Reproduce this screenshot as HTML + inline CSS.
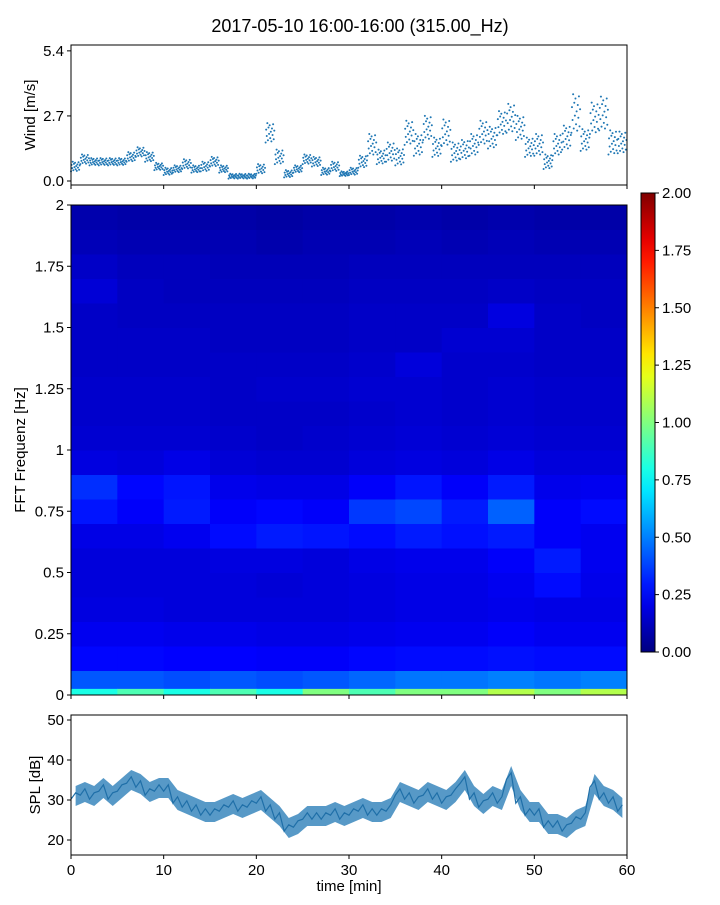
<!DOCTYPE html>
<html><head><meta charset="utf-8">
<style>
body{margin:0;background:#fff;}
svg text{font-family:"Liberation Sans","DejaVu Sans",sans-serif;fill:#000;}
</style></head>
<body>
<svg id="chart" width="720" height="900" xmlns="http://www.w3.org/2000/svg">
<text x="360" y="32" font-size="18" text-anchor="middle">2017-05-10 16:00-16:00 (315.00_Hz)</text>
<g id="wind"></g>
<g id="spec"></g>
<g id="cbar"></g>
<g id="spl"></g>
</svg>
<script>
const minutes = [0,1,2,3,4,5,6,7,8,9,10,11,12,13,14,15,16,17,18,19,20,21,22,23,24,25,26,27,28,29,30,31,32,33,34,35,36,37,38,39,40,41,42,43,44,45,46,47,48,49,50,51,52,53,54,55,56,57,58,59];
const windMean = [0.6,0.9,0.8,0.8,0.8,0.8,1.0,1.2,1.0,0.6,0.4,0.5,0.7,0.5,0.6,0.8,0.5,0.2,0.2,0.2,0.5,2.0,1.0,0.3,0.5,0.9,0.8,0.4,0.6,0.3,0.4,0.8,1.5,1.0,1.2,1.0,2.0,1.5,2.2,1.4,2.0,1.2,1.3,1.5,2.0,1.8,2.4,2.6,2.2,1.4,1.5,0.8,1.5,1.8,2.8,1.7,2.6,2.8,1.6,1.6];
const windSpread = [0.4,0.4,0.3,0.3,0.3,0.3,0.4,0.4,0.4,0.3,0.3,0.3,0.4,0.3,0.4,0.4,0.3,0.2,0.2,0.2,0.4,0.8,0.6,0.3,0.3,0.4,0.4,0.3,0.4,0.2,0.3,0.5,0.9,0.6,0.8,0.7,1.0,0.9,1.0,0.8,1.1,0.8,0.8,0.9,1.0,0.9,1.0,1.2,1.0,0.8,0.9,0.6,0.9,1.0,1.6,0.9,1.3,1.4,1.0,0.9];
const splMean = [31,32,31,33,31,33,35,34,32,33,33,30,29,28,27,27,28,29,28,29,30,28,26,23,24,26,26,26,27,26,27,28,27,27,28,32,31,30,32,31,30,32,35,31,29,31,30,36,30,27,27,24,24,23,25,26,34,31,30,28];
const windTicks = [0.0,2.7,5.4];
const splTicks = [20,30,40,50];
const timeTicks = [0,10,20,30,40,50,60];
const freqTicks = [0,0.25,0.5,0.75,1,1.25,1.5,1.75,2];
const cbarTicks = [0,0.25,0.5,0.75,1,1.25,1.5,1.75,2];
// spectrogram: rows from 0 Hz upward, 0.1 Hz each; 12 columns of 5 minutes
const specRows = [
[0.42,0.42,0.4,0.42,0.4,0.42,0.45,0.48,0.48,0.5,0.48,0.5],
[0.26,0.26,0.25,0.25,0.24,0.24,0.26,0.27,0.27,0.28,0.27,0.27],
[0.22,0.22,0.21,0.21,0.2,0.2,0.21,0.22,0.22,0.24,0.22,0.22],
[0.19,0.19,0.18,0.18,0.18,0.18,0.19,0.2,0.2,0.21,0.2,0.2],
[0.18,0.18,0.18,0.18,0.17,0.18,0.19,0.2,0.2,0.22,0.27,0.21],
[0.18,0.18,0.18,0.19,0.19,0.18,0.2,0.21,0.21,0.24,0.3,0.22],
[0.2,0.2,0.22,0.27,0.3,0.29,0.27,0.3,0.28,0.3,0.24,0.22],
[0.29,0.24,0.3,0.24,0.26,0.24,0.36,0.39,0.3,0.44,0.24,0.27],
[0.34,0.26,0.29,0.21,0.2,0.2,0.24,0.29,0.24,0.3,0.21,0.22],
[0.19,0.18,0.2,0.17,0.16,0.16,0.18,0.19,0.18,0.2,0.18,0.18],
[0.16,0.16,0.16,0.15,0.14,0.15,0.16,0.17,0.16,0.17,0.16,0.16],
[0.15,0.15,0.15,0.14,0.14,0.14,0.15,0.16,0.15,0.16,0.15,0.15],
[0.15,0.15,0.15,0.14,0.15,0.15,0.16,0.16,0.15,0.16,0.15,0.15],
[0.14,0.14,0.14,0.14,0.14,0.14,0.15,0.18,0.15,0.15,0.14,0.14],
[0.14,0.14,0.14,0.13,0.13,0.13,0.14,0.14,0.16,0.16,0.14,0.14],
[0.14,0.13,0.13,0.13,0.13,0.13,0.14,0.14,0.14,0.19,0.14,0.13],
[0.17,0.13,0.12,0.12,0.12,0.12,0.13,0.13,0.13,0.14,0.13,0.13],
[0.14,0.12,0.12,0.11,0.11,0.11,0.12,0.12,0.12,0.12,0.12,0.12],
[0.11,0.1,0.1,0.1,0.09,0.1,0.1,0.11,0.1,0.11,0.1,0.1],
[0.09,0.08,0.08,0.08,0.07,0.08,0.08,0.09,0.08,0.09,0.08,0.08]
];
const specBottomStrip = [0.8,0.9,0.8,0.9,0.8,1.0,0.9,1.0,1.0,1.1,1.0,1.1];

const NS='http://www.w3.org/2000/svg';
function mk(parent,tag,attrs,text){const e=document.createElementNS(NS,tag);for(const k in attrs)e.setAttribute(k,attrs[k]);if(text!==undefined)e.textContent=text;parent.appendChild(e);return e;}
const X0=71,X1=627;
const xs=t=>X0+(X1-X0)*t/60;
function jet(v){v=Math.max(0,Math.min(1,v));const c=x=>Math.round(255*Math.max(0,Math.min(1,1.5-Math.abs(4*v-x))));return `rgb(${c(3)},${c(2)},${c(1)})`;}
function yTicks(g,ticks,ys,fmt,tickName){ticks.forEach(t=>{const y=ys(t);
 const l=mk(g,'line',{x1:X0-4,x2:X0,y1:y,y2:y,stroke:'#000'});
 
 
 const tx=mk(g,'text',{x:X0-7,y:y+5,'font-size':15,'text-anchor':'end'},fmt(t));
 
 });}

// Wind panel
(function(){const g=document.getElementById('wind');const T=45,B=185;
 const ys=v=>181-24.1*v;
 mk(g,'rect',{x:X0,y:T,width:X1-X0,height:B-T,fill:'#fff'});
 const order=[0,6,3,9,1,7,4,8,2,5,0.5,6.5,3.5,8.5,1.5,5.5];
 windMean.forEach((m,i)=>{const s=windSpread[i];
  for(let k=0;k<16;k++){const t=minutes[i]+k/16;const v=Math.max(0,m+s*(order[k]/9-0.5));
   const c=mk(g,'circle',{cx:xs(t),cy:ys(v),r:1,fill:'#1f77b4'});
   
   }});
 const fr=mk(g,'rect',{x:X0,y:T,width:X1-X0,height:B-T,fill:'none',stroke:'#000'});
 
 yTicks(g,windTicks,ys,t=>t.toFixed(1),'wind-y');
 timeTicks.forEach(t=>mk(g,'line',{x1:xs(t),x2:xs(t),y1:B,y2:B+4,stroke:'#000'}));
 const yl=mk(g,'text',{x:0,y:0,'font-size':15,'text-anchor':'middle',transform:`translate(35,${(T+B)/2}) rotate(-90)`},'Wind [m/s]');
 
})();

// Spectrogram
(function(){const g=document.getElementById('spec');const T=205,B=695;
 const ys=f=>B-(B-T)*f/2;
 const nc=specRows[0].length;
 specRows.forEach((row,r)=>{row.forEach((v,c)=>{
  const rc=mk(g,'rect',{x:X0+(X1-X0)*c/nc,y:ys((r+1)*0.1),width:(X1-X0)/nc+0.5,height:ys(r*0.1)-ys((r+1)*0.1)+0.5,fill:jet(v/2)});
  
  });});
 specBottomStrip.forEach((v,c)=>{
  const rc=mk(g,'rect',{x:X0+(X1-X0)*c/nc,y:ys(0.025),width:(X1-X0)/nc+0.5,height:ys(0)-ys(0.025),fill:jet(v/2)});
  
  });
 const fr=mk(g,'rect',{x:X0,y:T,width:X1-X0,height:B-T,fill:'none',stroke:'#000'});
 
 yTicks(g,freqTicks,ys,t=>String(t),'freq-y');
 timeTicks.forEach(t=>mk(g,'line',{x1:xs(t),x2:xs(t),y1:B,y2:B+4,stroke:'#000'}));
 const yl=mk(g,'text',{x:0,y:0,'font-size':15,'text-anchor':'middle',transform:`translate(25,${(T+B)/2}) rotate(-90)`},'FFT Frequenz [Hz]');
 
})();

// Colorbar
(function(){const g=document.getElementById('cbar');const L=641,R=655,T=193,B=652;
 const defs=mk(g,'defs',{});const lg=mk(defs,'linearGradient',{id:'jetg',x1:0,y1:1,x2:0,y2:0});
 for(let i=0;i<=20;i++)mk(lg,'stop',{offset:i/20,'stop-color':jet(i/20)});
 const r=mk(g,'rect',{x:L,y:T,width:R-L,height:B-T,fill:'url(#jetg)',stroke:'#000'});
 
 cbarTicks.forEach(t=>{const y=B-(B-T)*t/2;mk(g,'line',{x1:R,x2:R+4,y1:y,y2:y,stroke:'#000'});
  const tx=mk(g,'text',{x:R+7,y:y+5,'font-size':15},t.toFixed(2));
  });
})();

// SPL panel
(function(){const g=document.getElementById('spl');const T=715,B=855;
 const ys=v=>800-4*(v-30);
 let up='',dn='',mid='';
 splMean.forEach((v,i)=>{for(let k=0;k<2;k++){const t=minutes[i]+k*0.5;mid+=(mid?'L':'M')+xs(t)+','+ys(v+(k?0.8:-0.8));}});
 splMean.forEach((v,i)=>{up+=(up?'L':'M')+xs(minutes[i]+0.5)+','+ys(v+2.5);});
 for(let i=splMean.length-1;i>=0;i--)dn+='L'+xs(minutes[i]+0.5)+','+ys(splMean[i]-2.5);
 const band=mk(g,'path',{d:up+dn+'Z',fill:'#1f77b4','fill-opacity':0.75});
 
 const ln=mk(g,'path',{d:mid,fill:'none',stroke:'#1f6fa8','stroke-width':1.2});
 
 const fr=mk(g,'rect',{x:X0,y:T,width:X1-X0,height:B-T,fill:'none',stroke:'#000'});
 
 yTicks(g,splTicks,ys,t=>String(t),'spl-y');
 timeTicks.forEach(t=>{mk(g,'line',{x1:xs(t),x2:xs(t),y1:B,y2:B+4,stroke:'#000'});
  const tx=mk(g,'text',{x:xs(t),y:B+20,'font-size':15,'text-anchor':'middle'},String(t));
  });
 const xl=mk(g,'text',{x:(X0+X1)/2,y:891,'font-size':15,'text-anchor':'middle'},'time [min]');
 
 const yl=mk(g,'text',{x:0,y:0,'font-size':15,'text-anchor':'middle',transform:`translate(40,${(T+B)/2}) rotate(-90)`},'SPL [dB]');
 
})();
</script>
</body></html>
